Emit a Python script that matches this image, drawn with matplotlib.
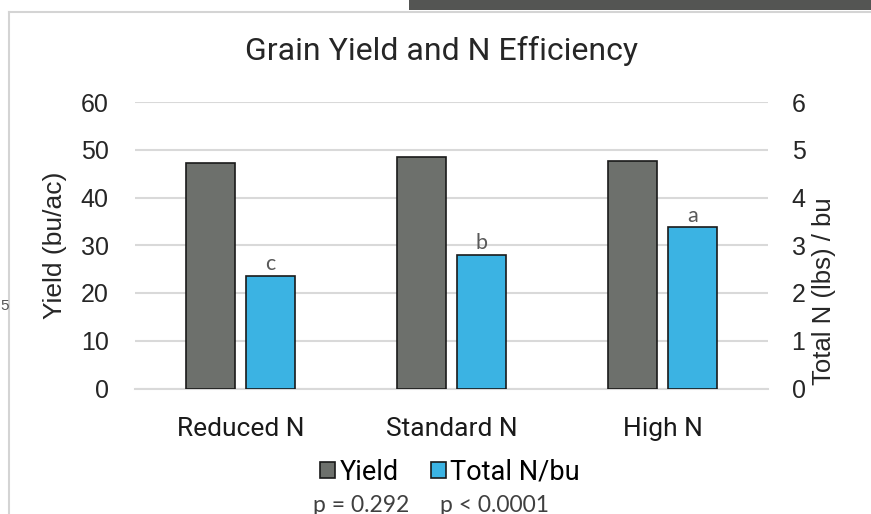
import numpy as np
import matplotlib
matplotlib.use('Agg')
import matplotlib.pyplot as plt
from matplotlib.patches import Rectangle, Patch
from matplotlib.lines import Line2D

# chart data
categories = ['Reduced N', 'Standard N', 'High N']
yield_bu_ac = [47.2, 48.5, 47.6]
total_n_per_bu = [2.36, 2.80, 3.38]
sig_letters = ['c', 'b', 'a']
p_values = ['p = 0.292', 'p < 0.0001']

gray = '#6d706c'
blue = '#3bb3e3'
grid_col = '#d9d9d9'
num_font = ['Liberation Sans', 'DejaVu Sans']
text_font = ['Roboto', 'DejaVu Sans']
geo_font = ['Lato', 'DejaVu Sans']

fig = plt.figure(figsize=(8.71, 5.14), dpi=100)

# page bits around the chart (screenshot frame)
fig.add_artist(Rectangle((409 / 871, 1 - 10 / 514), 462 / 871, 10 / 514,
                         transform=fig.transFigure, color='#545553', lw=0))
fig.add_artist(Line2D([9 / 871, 1], [1 - 12 / 514, 1 - 12 / 514],
                      transform=fig.transFigure, color='#d4d4d4', lw=1.5))
fig.add_artist(Line2D([9 / 871, 9 / 871], [0, 1 - 12 / 514],
                      transform=fig.transFigure, color='#d4d4d4', lw=1.5))
fig.text(0.5 / 871, 1 - 306 / 514, '5', fontsize=11, color='#555555',
         family=num_font, va='center', ha='left')

ax = fig.add_axes([135 / 871, 1 - 388.5 / 514, 633 / 871, 286.5 / 514])
ax2 = ax.twinx()

x = np.arange(len(categories))
w = 0.228
off = 0.142
ax.bar(x - off, yield_bu_ac, w, color=gray, edgecolor='#1a1a1a', lw=1.2, zorder=3)
ax2.bar(x + off, total_n_per_bu, w, color=blue, edgecolor='#1a1a1a', lw=1.2, zorder=3)

for xi, v, s in zip(x, total_n_per_bu, sig_letters):
    ax2.annotate(s, (xi + off, v), xytext=(0, 1), textcoords='offset points',
                 ha='center', va='bottom', fontsize=15.5, color='#595959',
                 family=geo_font)

ax.set_xlim(-0.5, 2.5)
ax.set_ylim(0, 60)
ax2.set_ylim(0, 6)
ax.set_yticks(range(0, 61, 10))
ax2.set_yticks(range(0, 7))
ax.yaxis.grid(True, color=grid_col, lw=1.5, zorder=0)
ax.set_axisbelow(True)

for a in (ax, ax2):
    for sp in a.spines.values():
        sp.set_visible(False)
ax.spines['bottom'].set_visible(True)
ax.spines['bottom'].set_color(grid_col)
ax.spines['bottom'].set_linewidth(1.5)

ax.set_xticks(x)
ax.set_xticklabels(categories, fontsize=19, family=text_font, color='#1a1a1a')
ax.tick_params(axis='x', length=0, pad=20.5)
ax.tick_params(axis='y', length=0, pad=19, labelsize=18, labelcolor='#262626')
ax2.tick_params(axis='y', length=0, pad=17, labelsize=18, labelcolor='#262626')
for lab in ax.get_yticklabels() + ax2.get_yticklabels():
    lab.set_family(num_font)

ax.set_ylabel('Yield (bu/ac)', fontsize=19, family=num_font, color='#262626')
ax.yaxis.set_label_coords(-0.108, 0.5)
ax2.set_ylabel('Total N (lbs) / bu', fontsize=18.5, family=num_font, color='#262626')
ax2.yaxis.set_label_coords(1.07, 0.34)

fig.text(0.507, 1 - 51 / 514, 'Grain Yield and N Efficiency', fontsize=23,
         family=text_font, color='#262626', ha='center', va='center')

handles = [Patch(facecolor=gray, edgecolor='#1a1a1a', lw=1.2, label='Yield'),
           Patch(facecolor=blue, edgecolor='#1a1a1a', lw=1.2, label='Total N/bu')]
fig.legend(handles=handles, loc='center', bbox_to_anchor=(450 / 871, 1 - 472 / 514),
           ncol=2, frameon=False, prop={'family': text_font, 'size': 19.5},
           handlelength=0.55, handleheight=0.55, handletextpad=0.15, columnspacing=1.2,
           borderpad=0, borderaxespad=0)

fig.text(361 / 871, 1 - 505 / 514, p_values[0], fontsize=16.5, family=geo_font,
         color='#404040', ha='center', va='center')
fig.text(495 / 871, 1 - 505 / 514, p_values[1], fontsize=16.5, family=geo_font,
         color='#404040', ha='center', va='center')

fig.savefig('out.png', dpi=100)
